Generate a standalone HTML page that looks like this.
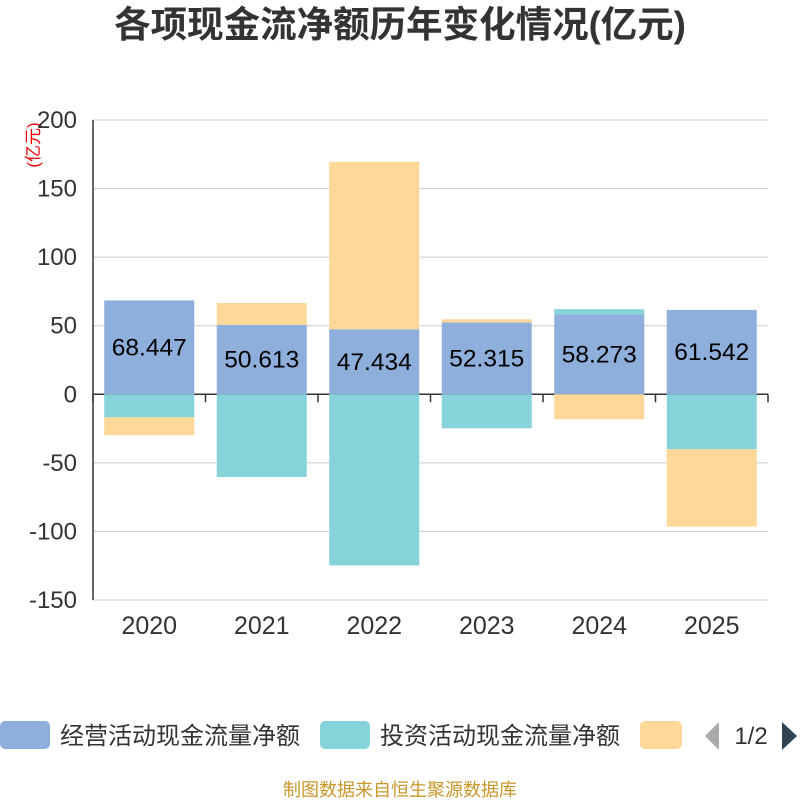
<!DOCTYPE html>
<html><head><meta charset="utf-8"><style>
body{margin:0;width:800px;height:800px;background:#fff;overflow:hidden;font-family:"Liberation Sans","Noto Sans CJK SC",sans-serif}
svg text{font-family:"Liberation Sans","Noto Sans CJK SC",sans-serif}
</style></head><body>
<svg id="c" width="800" height="800" xmlns="http://www.w3.org/2000/svg">
<text x="400" y="37" text-anchor="middle" font-size="36.5" font-weight="bold" fill="#333">各项现金流净额历年变化情况(亿元)</text>
<text transform="translate(39,145) rotate(-90)" text-anchor="middle" font-size="17" fill="#e00">(亿元)</text>
<g id="grid"></g><g id="bars"></g><g id="axis"></g>
<g>
<rect x="0" y="721" width="50" height="28" rx="5" fill="#8eaedb"/>
<text x="60" y="744" font-size="24" fill="#333">经营活动现金流量净额</text>
<rect x="320" y="721" width="50" height="28" rx="5" fill="#86d4d9"/>
<text x="380" y="744" font-size="24" fill="#333">投资活动现金流量净额</text>
<rect x="640" y="721" width="42" height="28" rx="5" fill="#fed899"/>
<polygon points="719,722 719,750 705,736" fill="#aaa"/>
<text x="751" y="744" text-anchor="middle" font-size="24" fill="#333">1/2</text>
<polygon points="782,722 782,750 797,736" fill="#2f4554"/>
</g>
<text x="400" y="796" text-anchor="middle" font-size="18" fill="#c8962a">制图数据来自恒生聚源数据库</text>
</svg>
<script>
const categories=["2020","2021","2022","2023","2024","2025"];
const operating=[68.447,50.613,47.434,52.315,58.273,61.542];
const investing=[-16.8,-60.3,-124.8,-24.8,3.8,-40.1];
const financing=[-13,16,122,2.4,-18.2,-56.4];
const yTicks=[200,150,100,50,0,-50,-100,-150];
const NS="http://www.w3.org/2000/svg";
const x0=93,x1=768,yMax=200,yMin=-150,yTop=120,yBot=600;
const y=v=>yTop+(yMax-v)*(yBot-yTop)/(yMax-yMin);
const bw=(x1-x0)/categories.length;
function mk(tag,attrs,parent,txt){const e=document.createElementNS(NS,tag);for(const k in attrs)e.setAttribute(k,attrs[k]);if(txt!==undefined)e.textContent=txt;document.getElementById(parent).appendChild(e);return e;}
yTicks.forEach(t=>{
 const l=mk('line',{x1:x0,x2:x1,y1:y(t),y2:y(t),stroke:t===0?'#333':'#ccc','stroke-width':t===0?1.5:1},'grid');
 
 
 const tx=mk('text',{x:x0-16,y:y(t)+8,'text-anchor':'end','font-size':24,fill:'#333'},'axis',String(t));
 
 
});
const ya=mk('line',{x1:x0,x2:x0,y1:yTop,y2:yBot,stroke:'#333','stroke-width':1.5},'axis');


for(let i=0;i<=categories.length;i++){
 const tk=mk('line',{x1:x0+i*bw,x2:x0+i*bw,y1:y(0),y2:y(0)+8,stroke:'#333','stroke-width':1.5},'axis');
 
 
}
const series=[[operating,'#8eaedb','operating'],[investing,'#86d4d9','investing'],[financing,'#fed899','financing']];
categories.forEach((c,i)=>{
 let pos=0,neg=0;const cx=x0+bw*i+bw/2;
 series.forEach(([arr,col,nm])=>{
  const v=arr[i];let a,b;
  if(v>=0){a=pos;b=pos+v;pos=b;}else{a=neg;b=neg+v;neg=b;}
  const r=mk('rect',{x:cx-45,width:90,y:Math.min(y(a),y(b)),height:Math.abs(y(a)-y(b)),fill:col},'bars');
  
  
 });
 const lb=mk('text',{x:cx,y:y(operating[i]/2)+8,'text-anchor':'middle','font-size':24.5,fill:'#000'},'bars',operating[i].toFixed(3));
 
 
 const xl=mk('text',{x:cx,y:634,'text-anchor':'middle','font-size':25,fill:'#333'},'axis',c);
 
 
});
</script>
</body></html>
